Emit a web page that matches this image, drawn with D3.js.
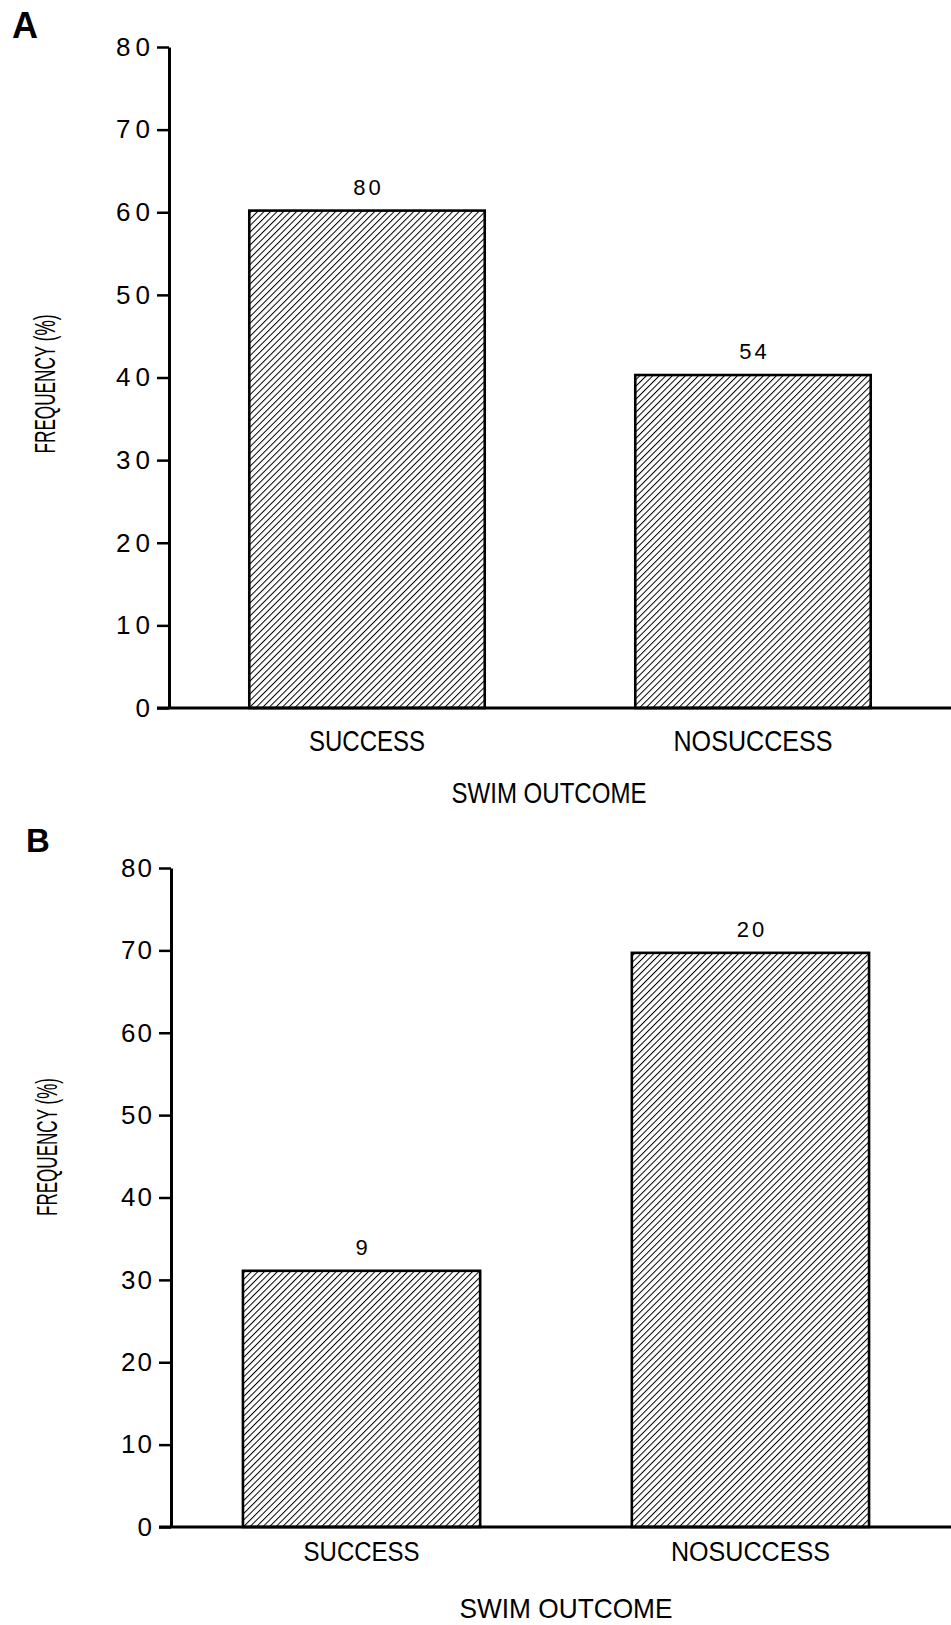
<!DOCTYPE html>
<html>
<head>
<meta charset="utf-8">
<script src="https://cdn.jsdelivr.net/npm/d3@7"></script>
<style>
  html, body { margin: 0; padding: 0; background: #fff; }
  svg { display: block; }
  text { font-family: "Liberation Sans", Arial, Helvetica, sans-serif; fill: #000; }
</style>
</head>
<body>
<script>
// ---- data ----
const categories = ["SUCCESS", "NOSUCCESS"];
const panelLabels = ["A", "B"];
const valuesA = [60.2, 40.3];      // frequency (%)
const valuesB = [31.1, 69.7];      // frequency (%)
const countsA = ["80", "54"];      // n above bars
const countsB = ["9", "20"];
const yTicks = [0, 10, 20, 30, 40, 50, 60, 70, 80];
const yTitle = "FREQUENCY (%)";
const xTitle = "SWIM OUTCOME";

// ---- layout (per panel) ----
const W = 951, H = 1625;
const panels = [
  { label: panelLabels[0], values: valuesA, counts: countsA,
    axisX: 169, yTop: 47, yBot: 708, xEnd: 951, pIn: 0.39, pOut: 0.208,
    labelPos: [12, 38], labelSize: 36,
    tickLS: 5, tickSize: 26,
    yTitleX: 55, yTitleY: 384, yTitleLen: 139, yTitleSize: 29,
    catBase: 751, catSize: 29, catLens: [116, 159],
    xTitleX: 549, xTitleBase: 803, xTitleLen: 195, xTitleSize: 29 },
  { label: panelLabels[1], values: valuesB, counts: countsB,
    axisX: 171, yTop: 868, yBot: 1527, xEnd: 941, pIn: 0.39, pOut: 0.185,
    labelPos: [26, 852], labelSize: 33,
    tickLS: 2, tickSize: 26,
    yTitleX: 57, yTitleY: 1147, yTitleLen: 138, yTitleSize: 29,
    catBase: 1561, catSize: 27, catLens: [116, 159],
    xTitleX: 566, xTitleBase: 1618, xTitleLen: 213, xTitleSize: 28 }
];

const svg = d3.select("body").append("svg").attr("width", W).attr("height", H);

const defs = svg.append("defs");
const pat = defs.append("pattern")
  .attr("id", "hatch").attr("patternUnits", "userSpaceOnUse")
  .attr("width", 4.6).attr("height", 4.6)
  .attr("patternTransform", "rotate(45)");
pat.append("rect").attr("width", 4.6).attr("height", 4.6).attr("fill", "#fff");
pat.append("line").attr("x1", 0).attr("y1", 0).attr("x2", 0).attr("y2", 4.6)
  .attr("stroke", "#000").attr("stroke-width", 2);

panels.forEach(p => {
  const g = svg.append("g");
  const y = d3.scaleLinear().domain([0, 80]).range([p.yBot, p.yTop]);
  const x = d3.scaleBand().domain(categories).range([p.axisX, p.xEnd])
    .paddingInner(p.pIn).paddingOuter(p.pOut);

  // panel letter
  g.append("text").attr("x", p.labelPos[0]).attr("y", p.labelPos[1])
    .attr("font-size", p.labelSize).attr("font-weight", "bold").text(p.label);

  // bars
  g.selectAll("rect.bar").data(p.values).join("rect").attr("class", "bar")
    .attr("x", (d, i) => x(categories[i]))
    .attr("y", d => y(d))
    .attr("width", x.bandwidth())
    .attr("height", d => y(0) - y(d))
    .attr("fill", "url(#hatch)")
    .attr("stroke", "#000").attr("stroke-width", 2.6);

  // counts above bars
  g.selectAll("text.cnt").data(p.values).join("text").attr("class", "cnt")
    .attr("x", (d, i) => x(categories[i]) + x.bandwidth() / 2 + 1.5)
    .attr("y", d => y(d) - 16)
    .attr("text-anchor", "middle").attr("font-size", 22)
    .attr("letter-spacing", 3)
    .text((d, i) => p.counts[i]);

  // y axis
  const yAxis = d3.axisLeft(y).tickValues(yTicks).tickSize(12).tickSizeOuter(0).tickPadding(7);
  const ya = g.append("g").attr("transform", `translate(${p.axisX},0)`).call(yAxis);
  ya.select(".domain").attr("stroke", "#000").attr("stroke-width", 3);
  ya.selectAll(".tick line").attr("stroke", "#000").attr("stroke-width", 2.5);
  ya.selectAll(".tick text")
    .attr("font-size", p.tickSize)
    .attr("font-family", "'Liberation Sans', Arial, sans-serif")
    .attr("fill", "#000")
    .attr("letter-spacing", p.tickLS)
    .attr("x", -19 + p.tickLS);

  // x axis baseline
  g.append("line").attr("x1", p.axisX - 12).attr("x2", W)
    .attr("y1", y(0)).attr("y2", y(0))
    .attr("stroke", "#000").attr("stroke-width", 3);

  // category labels
  g.selectAll("text.cat").data(categories).join("text").attr("class", "cat")
    .attr("x", d => x(d) + x.bandwidth() / 2)
    .attr("y", p.catBase)
    .attr("text-anchor", "middle").attr("font-size", p.catSize)
    .attr("textLength", (d, i) => p.catLens[i]).attr("lengthAdjust", "spacingAndGlyphs")
    .text(d => d);

  // x title
  g.append("text").attr("x", p.xTitleX).attr("y", p.xTitleBase)
    .attr("text-anchor", "middle").attr("font-size", p.xTitleSize)
    .attr("textLength", p.xTitleLen).attr("lengthAdjust", "spacingAndGlyphs")
    .text(xTitle);

  // y title
  g.append("text")
    .attr("transform", `translate(${p.yTitleX},${p.yTitleY}) rotate(-90)`)
    .attr("text-anchor", "middle").attr("font-size", p.yTitleSize)
    .attr("textLength", p.yTitleLen).attr("lengthAdjust", "spacingAndGlyphs")
    .text(yTitle);
});
</script>
</body>
</html>
